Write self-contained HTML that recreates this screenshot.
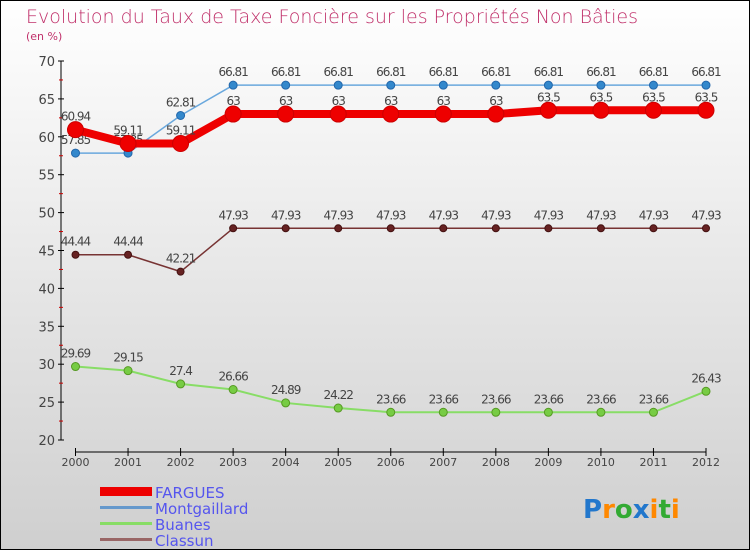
<!DOCTYPE html>
<html><head><meta charset="utf-8"><style>
body{margin:0}
#c{width:750px;height:550px;position:relative;overflow:hidden;font-family:"DejaVu Sans","Liberation Sans",sans-serif;}
</style></head><body>
<div id="c">
<svg id="s" width="750" height="550">
<defs><linearGradient id="bg" x1="0" y1="0" x2="0" y2="1"><stop offset="0" stop-color="#ffffff"/><stop offset="1" stop-color="#cfcfcf"/></linearGradient></defs>
<rect x="0.5" y="0.5" width="749" height="549" fill="url(#bg)" stroke="#000"/>
<text x="26" y="23" font-size="19" fill="#c0306a" font-weight="200">Evolution du Taux de Taxe Foncière sur les Propriétés Non Bâties</text>
<text x="26" y="40" font-size="11" fill="#c0306a">(en %)</text>
<g id="axes"></g><g id="series"></g>
<g>
<rect x="100" y="487" width="52" height="9" fill="#ee0000"/>
<text x="155" y="498" font-size="15" fill="#5555ee">FARGUES</text>
<rect x="100" y="506" width="52" height="3" fill="#6699cc"/>
<text x="155" y="514" font-size="15" fill="#5555ee">Montgaillard</text>
<rect x="100" y="522" width="52" height="3" fill="#88dd66"/>
<text x="155" y="530" font-size="15" fill="#5555ee">Buanes</text>
<rect x="100" y="538" width="52" height="3" fill="#996666"/>
<text x="155" y="546" font-size="15" fill="#5555ee">Classun</text>
</g>
<text x="583" y="518" font-size="26" font-weight="bold"><tspan fill="#2277cc">P</tspan><tspan fill="#ff8800">r</tspan><tspan fill="#33aa33">o</tspan><tspan fill="#2277cc">x</tspan><tspan fill="#ff8800">i</tspan><tspan fill="#33aa33">t</tspan><tspan fill="#ff8800">i</tspan></text>
</svg>
</div>
<script>
const years=["2000","2001","2002","2003","2004","2005","2006","2007","2008","2009","2010","2011","2012"];
const fargues=[60.94,59.11,59.11,63,63,63,63,63,63,63.5,63.5,63.5,63.5];
const montgaillard=[57.85,57.85,62.81,66.81,66.81,66.81,66.81,66.81,66.81,66.81,66.81,66.81,66.81];
const buanes=[29.69,29.15,27.4,26.66,24.89,24.22,23.66,23.66,23.66,23.66,23.66,23.66,26.43];
const classun=[44.44,44.44,42.21,47.93,47.93,47.93,47.93,47.93,47.93,47.93,47.93,47.93,47.93];
const yTicks=[20,25,30,35,40,45,50,55,60,65,70];
const NS="http://www.w3.org/2000/svg";
const X=i=>75.5+i*(706-75.5)/12;
const Y=v=>440-(v-20)*(440-61)/50;
function mk(t,a,p){const e=document.createElementNS(NS,t);for(const k in a)e.setAttribute(k,a[k]);p.appendChild(e);return e;}
const ax=document.getElementById('axes');
let yl=mk('line',{x1:61,y1:61,x2:61,y2:440,stroke:'#000'},ax);


yTicks.forEach((v,i)=>{
 mk('line',{x1:58,x2:64,y1:Y(v),y2:Y(v),stroke:'#000'},ax);
 if(i<yTicks.length-1)mk('line',{x1:59,x2:63,y1:Y(v+2.5),y2:Y(v+2.5),stroke:'#cc0000'},ax);
 const t=mk('text',{x:55,y:Y(v)+5,'text-anchor':'end','font-size':13,fill:'#444'},ax);t.textContent=v;
 
 
});
let xl=mk('line',{x1:75.5,y1:452,x2:706,y2:452,stroke:'#000'},ax);


years.forEach((y,i)=>{
 mk('line',{x1:X(i),x2:X(i),y1:448,y2:456,stroke:'#000'},ax);
 const t=mk('text',{x:X(i),y:466,'text-anchor':'middle','font-size':11,fill:'#444'},ax);t.textContent=y;
 
 
});
const sg=document.getElementById('series');
function series(name,data,color,w,r,dot,stroke){
 const g=mk('g',{},sg);
 
 
 const l=mk('polyline',{points:data.map((v,i)=>X(i)+','+Y(v)).join(' '),fill:'none',stroke:color,'stroke-width':w,'stroke-linejoin':'round'},g);
 
 
 data.forEach((v,i)=>{
  const c=mk('circle',{cx:X(i),cy:Y(v),r:r,fill:dot,stroke:stroke,'stroke-width':1},g);
  
  
  const t=mk('text',{x:X(i),y:Y(v)-9,'text-anchor':'middle','font-size':12,fill:'#444','letter-spacing':'-1'},g);t.textContent=v;
  
  
 });
}
series('buanes',buanes,'#88dd66',2,4,'#77cc44','#559922');
series('classun',classun,'#773333',1.5,3.5,'#662222','#441111');
series('montgaillard',montgaillard,'#6aa8dd',1.5,4,'#3388cc','#2266aa');
series('fargues',fargues,'#ee0000',8,8,'#ee0000','#cc0000');
</script>
</body></html>
